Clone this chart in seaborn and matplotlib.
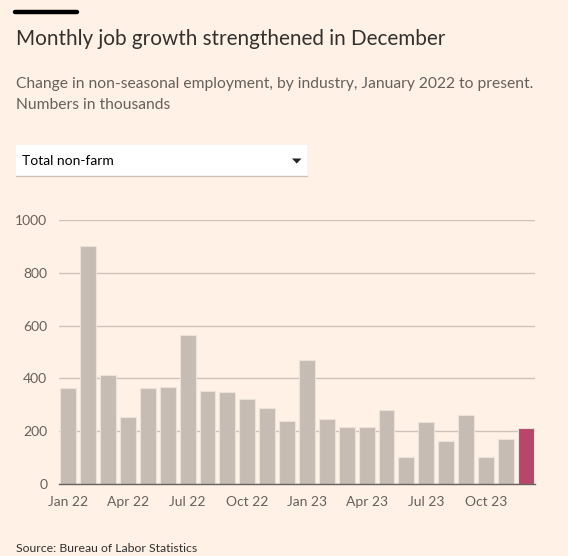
import matplotlib
matplotlib.use("Agg")
import matplotlib.pyplot as plt
import seaborn as sns
import pandas as pd
from matplotlib.patches import Rectangle, Polygon
from matplotlib.lines import Line2D

months = ["Jan 22", "Feb 22", "Mar 22", "Apr 22", "May 22", "Jun 22",
          "Jul 22", "Aug 22", "Sep 22", "Oct 22", "Nov 22", "Dec 22",
          "Jan 23", "Feb 23", "Mar 23", "Apr 23", "May 23", "Jun 23",
          "Jul 23", "Aug 23", "Sep 23", "Oct 23", "Nov 23", "Dec 23"]
jobs = [362, 902, 414, 252, 362, 368, 566, 351, 348, 323, 288, 238,
        470, 247, 216, 216, 280, 103, 235, 164, 261, 103, 172, 214]
tick_labels = ["Jan 22", "Apr 22", "Jul 22", "Oct 22",
               "Jan 23", "Apr 23", "Jul 23", "Oct 23"]
y_ticks = [0, 200, 400, 600, 800, 1000]

BG = "#fff1e5"
GREY_BAR = "#c7bcb4"
HIGHLIGHT = "#b8456a"
TEXT = "#33302e"
MUTED = "#66605c"
GRID = "#cec3ba"

sns.set_theme(style="white")
plt.rcParams["font.family"] = ["Lato", "DejaVu Sans"]

df = pd.DataFrame({"month": months, "jobs": jobs})
palette = {m: (HIGHLIGHT if i == len(months) - 1 else GREY_BAR) for i, m in enumerate(months)}

fig = plt.figure(figsize=(5.68, 5.56), dpi=100, facecolor=BG)
ax = fig.add_axes([59/568, 1-484/556, (535-59)/568, (484-220)/556])
ax.set_facecolor(BG)

sns.barplot(data=df, x="month", y="jobs", hue="month", palette=palette,
            legend=False, width=0.8, ax=ax, saturation=1,
            edgecolor="#ece2d9", linewidth=0.8, zorder=3)

ax.set_ylim(0, 1000)
ax.set_xlim(-0.47, len(months) - 0.53)
ax.set_yticks(y_ticks)
ax.set_yticklabels([str(v) for v in y_ticks], color=MUTED, fontsize=10)
ax.yaxis.grid(True, color=GRID, linewidth=1, zorder=0)
ax.set_axisbelow(True)
for s in ["top", "right", "left"]:
    ax.spines[s].set_visible(False)
ax.spines["bottom"].set_color(MUTED)
ax.spines["bottom"].set_linewidth(1)
ax.spines["bottom"].set_zorder(5)
ax.tick_params(axis="y", length=0, pad=8.5)
pos = [months.index(t) for t in tick_labels]
ax.set_xticks(pos)
ax.set_xticklabels(tick_labels, color=MUTED, fontsize=10)
ax.tick_params(axis="x", length=6, width=1, color=GRID, pad=3, direction="out")
ax.set_xlabel("")
ax.set_ylabel("")

# header
fig.add_artist(Line2D([15/568, 77/568], [1-11.5/556, 1-11.5/556], color="black", linewidth=3.2))
fig.text(16/568, 1-39/556, "Monthly job growth strengthened in December",
         fontsize=14.9, color=TEXT, va="center", ha="left")
fig.text(16/568, 1-84/556, "Change in non-seasonal employment, by industry, January 2022 to present.",
         fontsize=11.25, color=MUTED, va="center", ha="left")
fig.text(16/568, 1-105/556, "Numbers in thousands",
         fontsize=11.25, color=MUTED, va="center", ha="left")

# dropdown
fig.add_artist(Rectangle((16/568, 1-176/556), (307-16)/568, 31/556,
                         facecolor="white", edgecolor="none", transform=fig.transFigure))
fig.add_artist(Line2D([16/568, 307/568], [1-176/556, 1-176/556], color="#ccc1b7", linewidth=1))
fig.text(22/568, 1-161/556, "Total non-farm", fontsize=10, color="black", va="center", ha="left")
fig.add_artist(Polygon([[292/568, 1-158.5/556], [301.5/568, 1-158.5/556], [296.75/568, 1-163.5/556]],
                       closed=True, facecolor="#222222", edgecolor="none", transform=fig.transFigure))

fig.text(16/568, 1-549/556, "Source: Bureau of Labor Statistics", fontsize=8.8, color=TEXT,
         va="center", ha="left")

fig.savefig("out.png", dpi=100, facecolor=BG)
